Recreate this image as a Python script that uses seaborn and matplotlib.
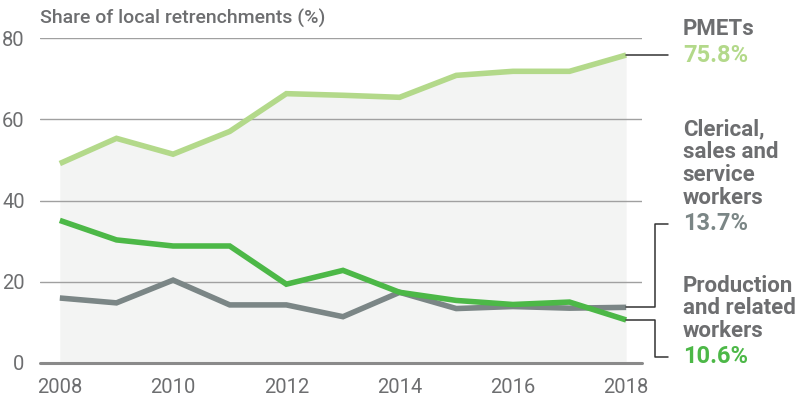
import numpy as np
import pandas as pd
import seaborn as sns
import matplotlib.pyplot as plt

years = [2008, 2009, 2010, 2011, 2012, 2013, 2014, 2015, 2016, 2017, 2018]
pmets = [49.1, 55.3, 51.4, 57.0, 66.3, 65.9, 65.4, 70.8, 71.8, 71.8, 75.8]
clerical = [16.0, 14.8, 20.4, 14.3, 14.3, 11.4, 17.4, 13.4, 13.9, 13.5, 13.7]
production = [35.1, 30.3, 28.8, 28.8, 19.4, 22.8, 17.4, 15.4, 14.4, 15.0, 10.6]

series_names = ["PMETs", "Clerical, sales and service workers", "Production and related workers"]
end_labels = ["PMETs", "Clerical,\nsales and\nservice\nworkers", "Production\nand related\nworkers"]
end_values = ["75.8%", "13.7%", "10.6%"]
colors = ["#b3d98a", "#7b8686", "#4cb847"]
label_y = [75.8, 34.3, 1.5]

df = pd.DataFrame({
    "year": years * 3,
    "value": pmets + clerical + production,
    "series": [s for s in series_names for _ in years],
})

sns.set_theme(style="white")
plt.rcParams["font.family"] = ["Roboto", "DejaVu Sans"]

fig = plt.figure(figsize=(8.03, 4.05), dpi=100)
ax = fig.add_axes([40 / 803, 1 - 363 / 405, 602 / 803, 325 / 405])

ax.fill_between(years, 0, pmets, color="#f3f4f3", zorder=0, linewidth=0)
for v in [20, 40, 60, 80]:
    ax.axhline(v, color="#a0a0a0", lw=1.0, zorder=1)
ax.axhline(0, color="#8a8a8a", lw=2.2, zorder=1, clip_on=False)

sns.lineplot(data=df, x="year", y="value", hue="series", palette=colors,
             hue_order=series_names, lw=4, legend=False, ax=ax, zorder=3)
for line in ax.lines[-3:]:
    line.set_solid_capstyle("butt")
    line.set_solid_joinstyle("miter")

ax.set_xlim(2007.65, 2018.28)
ax.set_ylim(0, 80)
ax.set_xticks([2008, 2010, 2012, 2014, 2016, 2018])
ax.set_yticks([0, 20, 40, 60, 80])
ax.tick_params(axis="x", length=6, width=1, color="#8a8a8a", colors="#6d6e70",
               labelsize=14.5, pad=5, direction="out")
ax.tick_params(axis="y", length=0, colors="#6d6e70", labelsize=14.5, pad=11)
ax.set_xlabel("")
ax.set_ylabel("")
for s in ax.spines.values():
    s.set_visible(False)

fig.text(40 / 803, 1 - 18 / 405, "Share of local retrenchments (%)", fontsize=14,
         color="#6d6e70", fontweight="medium", va="center", ha="left")

# connectors and end labels
ends = [pmets[-1], clerical[-1], production[-1]]
x_end = years[-1]
for i in range(3):
    if i == 0:
        xs = [x_end, x_end + 0.74]
        ys = [ends[i], ends[i]]
    else:
        xs = [x_end, x_end + 0.51, x_end + 0.51, x_end + 0.74]
        ys = [ends[i], ends[i], label_y[i], label_y[i]]
    ax.plot(xs, ys, color="#333333", lw=1.1, clip_on=False, zorder=4)
    ax.text(x_end + 1.0, label_y[i], end_values[i], color=colors[i], fontsize=17,
            fontweight="bold", va="center", ha="left")
    ax.text(x_end + 1.0, label_y[i] + 3.6, end_labels[i], color="#6d6e70", fontsize=16,
            fontweight="bold", va="bottom", ha="left", linespacing=1.05)

fig.savefig("out.png", dpi=100)
